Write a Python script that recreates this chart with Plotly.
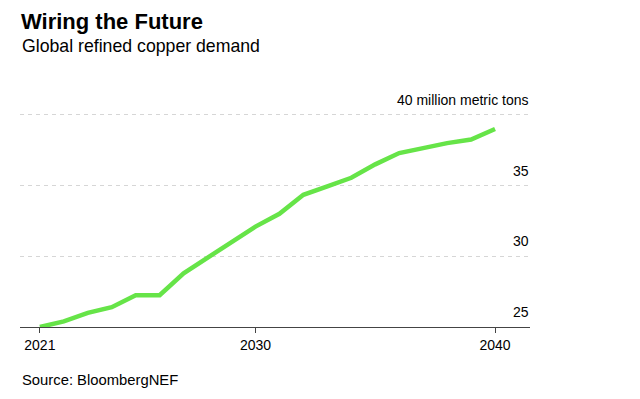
import plotly.graph_objects as go

years = list(range(2021, 2041))
demand = [25.0, 25.4, 26.0, 26.4, 27.25, 27.25, 28.8, 29.9, 31.0, 32.1,
          33.0, 34.35, 34.95, 35.55, 36.5, 37.3, 37.65, 38.0, 38.25, 39.0]

x_tickvals = [2021, 2030, 2040]
x_ticktext = ["2021", "2030", "2040"]
y_tickvals = [25, 30, 35, 40]
y_ticktext = ["25", "30", "35", "40 million metric tons"]

FONT = "Liberation Sans, Arial, Helvetica, sans-serif"

# page offset of 8px (default body margin) is compensated in margins
L, T, PW, PH = 12, 92, 510, 227
W, H = 632, 391

fig = go.Figure()
fig.add_trace(go.Scatter(
    x=years, y=demand, mode="lines",
    line=dict(color="#66e448", width=4.5),
    hoverinfo="skip", showlegend=False,
))

annotations = [
    dict(text="<b>Wiring the Future</b>", xref="paper", yref="paper",
         x=0, y=1 + T / PH, xanchor="left", yanchor="top", borderpad=0,
         showarrow=False, font=dict(size=22, color="#000", family=FONT)),
    dict(text="Global refined copper demand", xref="paper", yref="paper",
         x=0, y=1 + (T - 38) / PH, xanchor="left", yanchor="middle",
         showarrow=False, font=dict(size=17.7, color="#000", family=FONT)),
    dict(text="Source: BloombergNEF", xref="paper", yref="paper",
         x=0, y=-(372 - (T + PH)) / PH, xanchor="left", yanchor="middle",
         showarrow=False, font=dict(size=14.8, color="#000", family=FONT)),
]
for v, t in zip(y_tickvals, y_ticktext):
    annotations.append(dict(
        text=t, xref="paper", yref="y", x=1 + 1 / PW, y=v,
        xanchor="right", yanchor="middle", yshift=15,
        showarrow=False, font=dict(size=14, color="#000", family=FONT)))

fig.update_layout(
    width=W, height=H,
    margin=dict(l=L, r=W - L - PW, t=T, b=H - T - PH),
    paper_bgcolor="white", plot_bgcolor="white",
    font=dict(family=FONT, size=14, color="#000"),
    xaxis=dict(
        range=[2020.17, 2041.46],
        tickvals=x_tickvals, ticktext=x_ticktext,
        showgrid=False, zeroline=False,
        showline=True, linecolor="#444", linewidth=1,
        ticks="outside", ticklen=5, tickcolor="#444", tickwidth=1,
        tickfont=dict(size=14, color="#000"),
        fixedrange=True,
    ),
    yaxis=dict(
        range=[25, 41.05],
        tickvals=[30, 35, 40],
        showticklabels=False,
        showgrid=True, gridcolor="#d6d6d6", gridwidth=1, griddash="4px,4px",
        zeroline=False, showline=False, ticks="",
        fixedrange=True,
    ),
    annotations=annotations,
)

fig.write_html("out.html")
